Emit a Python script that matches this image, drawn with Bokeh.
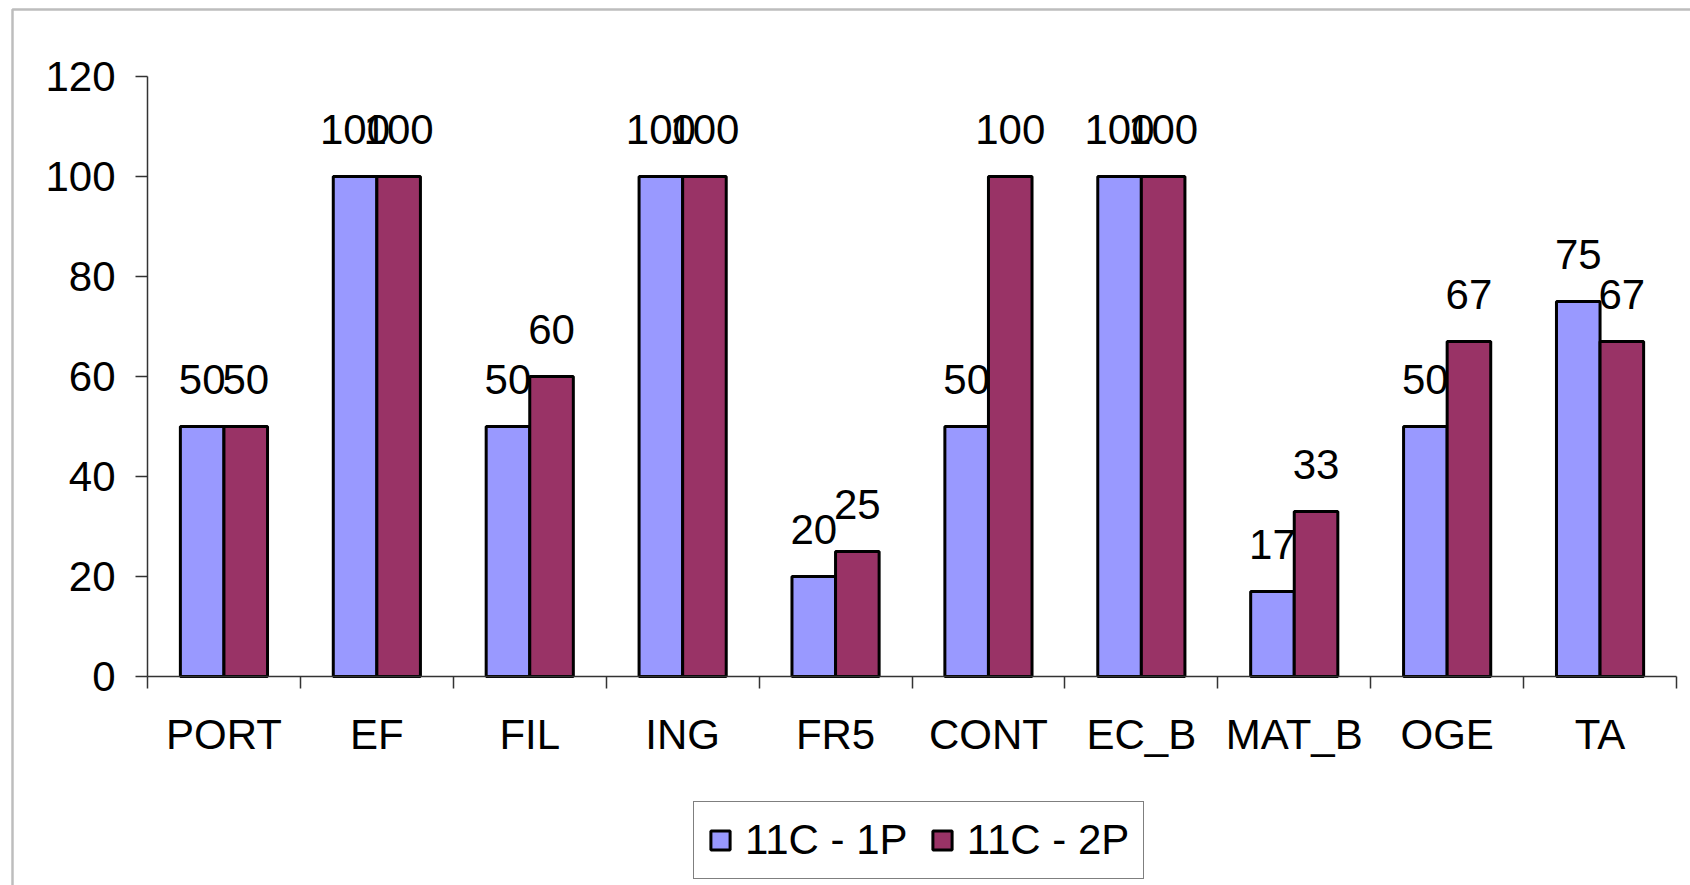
from bokeh.plotting import figure
from bokeh.models import (ColumnDataSource, Range1d, FixedTicker, LinearAxis,
                          LabelSet, Legend, LegendItem, BoxAnnotation)
from bokeh.core.properties import value
from bokeh.transform import dodge
from bokeh.embed import file_html
from bokeh.resources import INLINE

categories = ["PORT", "EF", "FIL", "ING", "FR5", "CONT", "EC_B", "MAT_B", "OGE", "TA"]
series_names = ["11C - 1P", "11C - 2P"]
values_1p = [50, 100, 50, 100, 20, 50, 100, 17, 50, 75]
values_2p = [50, 100, 60, 100, 25, 100, 100, 33, 67, 67]
y_ticks = [0, 20, 40, 60, 80, 100, 120]

FONT = "Liberation Sans"
FS = "42px"
COL1 = "#9999FF"
COL2 = "#993366"
AX = "#333333"
W, H = 1690, 885
# pixel layout of the plot area inside the canvas
PX_LEFT, PX_RIGHT = 147, 1676     # x = 0 and x = n
PX_BOTTOM, PX_TOP = 676, 76       # y = 0 and y = 120

n = len(categories)
centers = [i + 0.5 for i in range(n)]
bounds = list(range(n + 1))
BW = 0.285
YMAX = 120

sx = (PX_RIGHT - PX_LEFT) / n
sy = (PX_BOTTOM - PX_TOP) / YMAX
x_range = Range1d(-PX_LEFT / sx, n + (W - PX_RIGHT) / sx)
y_range = Range1d(-(H - PX_BOTTOM) / sy, YMAX + PX_TOP / sy)

src = ColumnDataSource(dict(
    x=centers, cat=categories, v1=values_1p, v2=values_2p,
    l1=[str(v) for v in values_1p], l2=[str(v) for v in values_2p],
))

p = figure(width=W, height=H, x_range=x_range, y_range=y_range,
           output_backend="svg", toolbar_location=None,
           x_axis_type=None, y_axis_type=None,
           min_border_left=0, min_border_top=0, min_border_right=0,
           min_border_bottom=0)
p.outline_line_color = None
p.background_fill_color = "white"
p.border_fill_color = "white"

xaxis = LinearAxis(ticker=FixedTicker(ticks=centers, minor_ticks=bounds),
                   major_label_overrides={c: name for c, name in zip(centers, categories)},
                   fixed_location=0, bounds=(0, n))
xaxis.axis_line_color = AX
xaxis.axis_line_width = 1.5
xaxis.major_tick_out = 0
xaxis.major_tick_in = 0
xaxis.major_tick_line_color = None
xaxis.minor_tick_out = 12
xaxis.minor_tick_in = 0
xaxis.minor_tick_line_color = AX
xaxis.minor_tick_line_width = 1.5
xaxis.major_label_standoff = 22
xaxis.major_label_text_font = FONT
xaxis.major_label_text_font_size = FS
xaxis.major_label_text_color = "black"
p.add_layout(xaxis, "below")

yaxis = LinearAxis(ticker=FixedTicker(ticks=y_ticks, minor_ticks=[]),
                   fixed_location=0, bounds=(0, YMAX))
yaxis.axis_line_color = AX
yaxis.axis_line_width = 1.5
yaxis.major_tick_out = 12
yaxis.major_tick_in = 0
yaxis.major_tick_line_color = AX
yaxis.major_tick_line_width = 1.5
yaxis.major_label_standoff = 20
yaxis.major_label_text_font = FONT
yaxis.major_label_text_font_size = FS
yaxis.major_label_text_color = "black"
p.add_layout(yaxis, "left")

r1 = p.vbar(x=dodge("x", -BW / 2), top="v1", width=BW, source=src,
            fill_color=COL1, line_color="black", line_width=3)
r2 = p.vbar(x=dodge("x", BW / 2), top="v2", width=BW, source=src,
            fill_color=COL2, line_color="black", line_width=3)

for xf, yf, tf in [(dodge("x", -BW / 2), "v1", "l1"), (dodge("x", BW / 2), "v2", "l2")]:
    lab = LabelSet(x=xf, y=yf, text=tf, source=src, text_align="center",
                   text_baseline="alphabetic", y_offset=33,
                   text_font=value(FONT), text_font_size=FS, text_color="black")
    p.add_layout(lab)

legend = Legend(items=[LegendItem(label=series_names[0], renderers=[r1]),
                       LegendItem(label=series_names[1], renderers=[r2])],
                location=(693, H - 879), orientation="horizontal")
legend.border_line_color = "black"
legend.border_line_width = 1.5
legend.background_fill_color = "white"
legend.background_fill_alpha = 1
legend.padding = 14
legend.spacing = 22
legend.label_standoff = 13
legend.glyph_width = 24
legend.glyph_height = 24
legend.label_text_font = FONT
legend.label_text_font_size = FS
legend.label_text_color = "black"
legend.margin = 0
p.add_layout(legend)

border = BoxAnnotation(left=12, right=W + 100, top=H - 9, bottom=-100,
                       left_units="screen", right_units="screen",
                       top_units="screen", bottom_units="screen",
                       fill_color=None, fill_alpha=0,
                       line_color="#262626", line_width=2.5)
p.add_layout(border)

open("out.html", "w").write(file_html(p, INLINE))
